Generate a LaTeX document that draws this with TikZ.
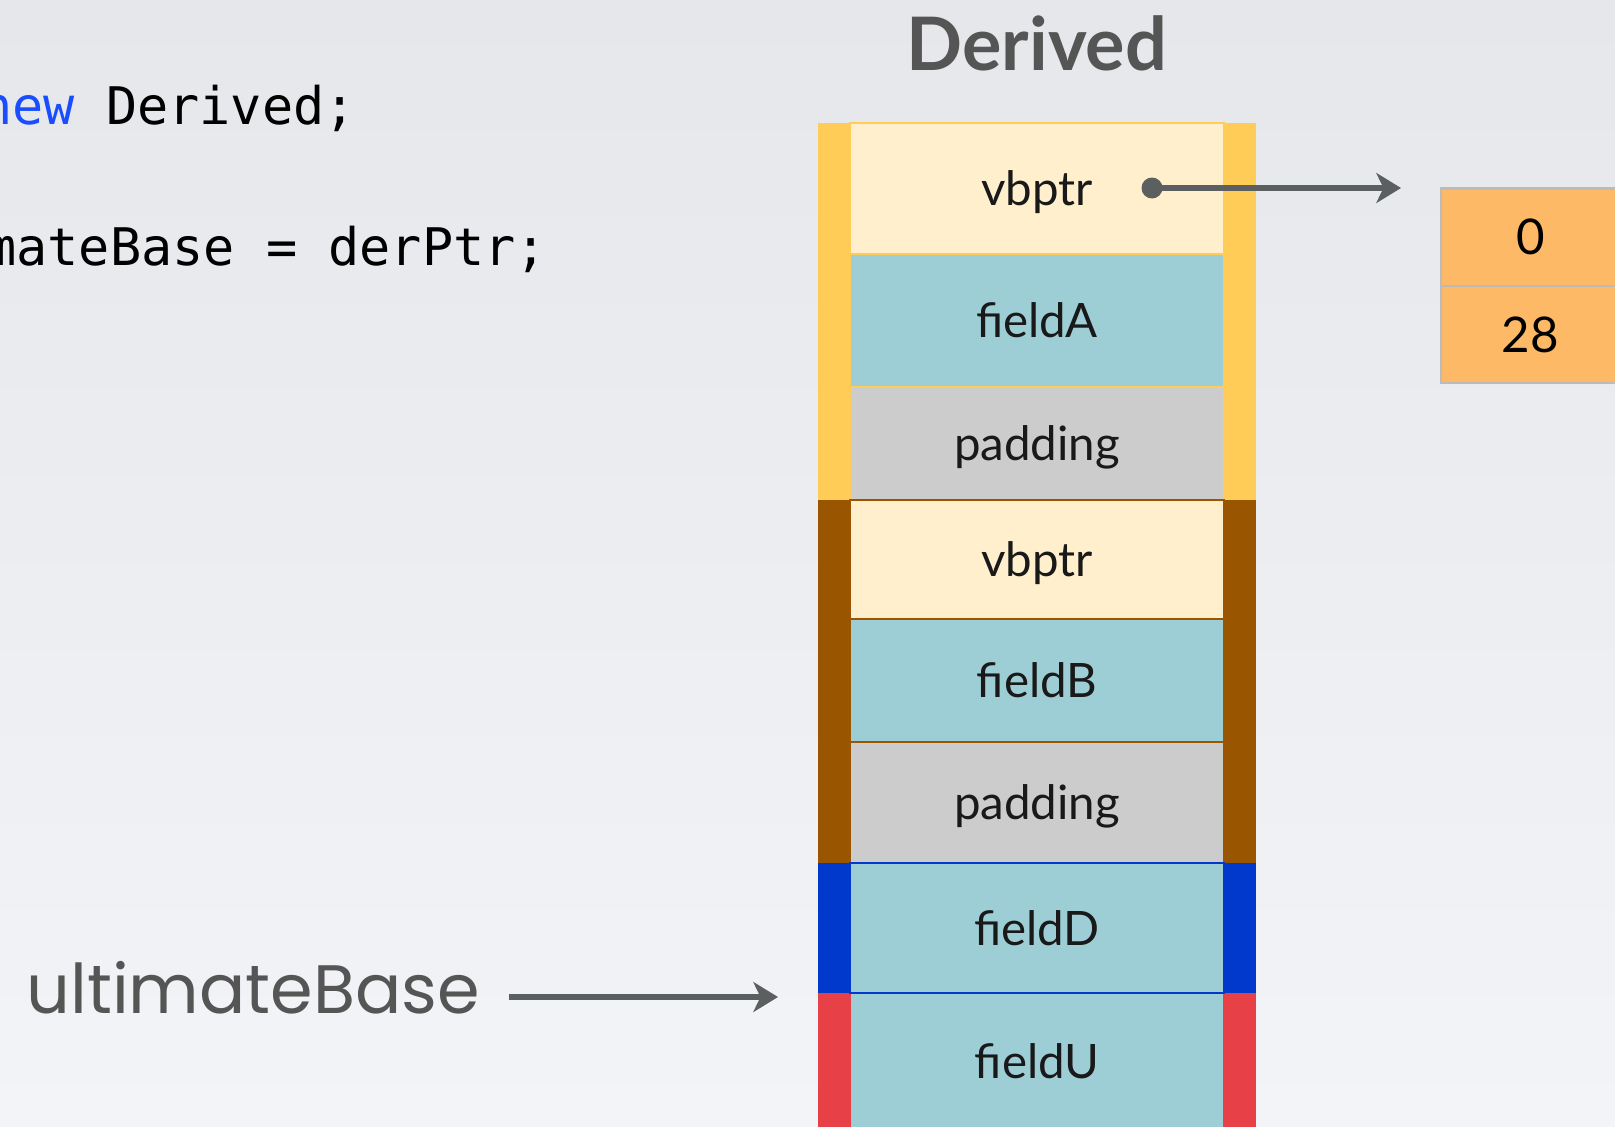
\documentclass[tikz,border=0pt]{standalone}
\usepackage{fontspec}
\setmainfont{Lato}
\setmonofont{DejaVu Sans Mono}
\newfontfamily\handfont{Poppins}
\usetikzlibrary{arrows.meta}

\definecolor{bgtop}{HTML}{E5E7EB}
\definecolor{bgbot}{HTML}{F3F4F8}
\definecolor{vbyellow}{HTML}{FFCC57}
\definecolor{vbbrown}{HTML}{995500}
\definecolor{vbblue}{HTML}{0039CC}
\definecolor{vbred}{HTML}{E84047}
\definecolor{ptrfill}{HTML}{FFEFCC}
\definecolor{fieldfill}{HTML}{9DCED6}
\definecolor{padfill}{HTML}{CCCCCC}
\definecolor{offfill}{HTML}{FDB965}
\definecolor{offline}{HTML}{BBBBBB}
\definecolor{arrowgray}{HTML}{5B5F5F}
\definecolor{titlegray}{HTML}{555555}
\definecolor{kwblue}{HTML}{1A4DFF}

\tikzset{
  cell/.style={draw=#1, line width=1pt, minimum width=7.48cm, inner sep=0pt,
    text height=19.5pt, text depth=0pt, text=black!90,
    font=\fontsize{27}{32}\selectfont},
  offcell/.style={draw=offline, fill=offfill, line width=1.6pt, minimum width=3.58cm,
    inner sep=0pt, text height=20pt, text depth=0pt, font=\fontsize{28}{32}\selectfont},
  ptr/.style={-{Stealth[length=14pt,width=17pt,inset=4pt]}, draw=arrowgray, line width=3pt},
}

\begin{document}
\begin{tikzpicture}[x=0.02cm, y=-0.02cm]
  \shade[top color=bgtop, bottom color=bgbot] (0,0) rectangle (1615,1126);
  \useasboundingbox (0,0) rectangle (1615,1126);
  \clip (0,0) rectangle (1615,1126);

  % Code lines
  \node[anchor=base west, inner sep=0pt, font=\ttfamily\fontsize{29.5}{34}\selectfont] (line1) at (-19,124) {\textcolor{kwblue}{new} Derived;};
  \node[anchor=base west, inner sep=0pt, font=\ttfamily\fontsize{29.5}{34}\selectfont] (line2) at (-15,265) {mateBase = derPtr;};

  % Title
  \node[inner sep=0pt, text height=30pt, text depth=0pt, text=titlegray, font=\bfseries\fontsize{42}{46}\selectfont] (title) at (1037,44) {Derived};

  % Side bands
  \fill[vbyellow] (818,123) rectangle (1256,500);
  \fill[vbbrown] (818,500) rectangle (1256,863);
  \fill[vbblue] (818,863) rectangle (1256,993);
  \fill[vbred] (818,993) rectangle (1256,1140);

  % Layout cells
  \node[cell=vbyellow, fill=ptrfill, minimum height=2.62cm] (ptr1) at (1037,188.5) {vbptr};
  \node[cell=vbyellow, fill=fieldfill, minimum height=2.66cm] (fieldA) at (1037,320.5) {fieldA};
  \node[cell=vbyellow, fill=padfill, minimum height=2.26cm] (pad1) at (1037,443.5) {padding};
  \node[cell=vbbrown, fill=ptrfill, minimum height=2.38cm] (ptr2) at (1037,559.5) {vbptr};
  \node[cell=vbbrown, fill=fieldfill, minimum height=2.46cm] (fieldB) at (1037,680.5) {fieldB};
  \node[cell=vbbrown, fill=padfill, minimum height=2.42cm] (pad2) at (1037,802.5) {padding};
  \node[cell=vbred, fill=fieldfill, minimum height=2.74cm] (fieldU) at (1037,1061.5) {fieldU};
  \node[cell=vbblue, fill=fieldfill, minimum height=2.60cm] (fieldD) at (1037,928) {fieldD};

  % Offset table
  \node[offcell, minimum height=1.95cm] (off0) at (1530.5,237.25) {0};
  \node[offcell, minimum height=1.94cm] (off1) at (1530.5,334.5) {28};

  % Pointers
  \coordinate (vbdot) at (1152,188);
  \coordinate (vbtip) at (1401,188);
  \fill[arrowgray] (vbdot) circle (0.21cm);
  \draw[ptr] (vbdot) -- (vbtip);

  \node[anchor=west, inner sep=0pt, text height=19pt, text depth=0pt, text=titlegray, font=\handfont\fontsize{39}{44}\selectfont] (ubase) at (26,997) {ultimateBase};
  \coordinate (ubtip) at (778,997);
  \draw[ptr, shorten <=0.58cm] (ubase.east) -- (ubtip);
\end{tikzpicture}
\end{document}
